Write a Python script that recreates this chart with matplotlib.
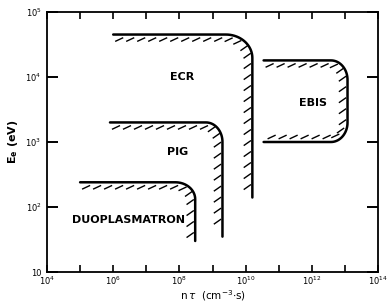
import numpy as np
import matplotlib
matplotlib.use("Agg")
import matplotlib.pyplot as plt
from matplotlib.ticker import FixedLocator, FuncFormatter, NullLocator

# ---- data ----
sources = ["ECR", "PIG", "DUOPLASMATRON", "EBIS"]
ntau_start = [1e6, 8e5, 1e5, 3.5e10]      # left end of boundary
ntau_edge = [1.6e10, 2e9, 3e8, 1.2e13]    # right (vertical) edge
energy_top = [4.5e4, 2e3, 2.4e2, 1.8e4]   # upper boundary energy (eV)
energy_bottom = [1.4e2, 35, 30, 1e3]      # lower end of vertical edge / lower boundary
closed_bottom = [False, False, False, True]
label_x = [1.2e8, 9e7, 3e6, 1.1e12]
label_y = [1.0e4, 7e2, 63, 4e3]

xticks = [10.0**k for k in range(4, 15)]
xtick_labels = {4: "10$^4$", 6: "10$^6$", 8: "10$^8$", 10: "10$^{10}$", 12: "10$^{12}$", 14: "10$^{14}$"}
yticks = [10.0**k for k in range(1, 6)]
ytick_labels = {1: "10", 2: "10$^2$", 3: "10$^3$", 4: "10$^4$", 5: "10$^5$"}

# corner radii in decades (style)
rx = [0.8, 0.5, 0.6, 0.5]
ry = [0.36, 0.3, 0.26, 0.3]

W_px, H_px = 391, 307
fig = plt.figure(figsize=(W_px / 100, H_px / 100), dpi=100)
left, right, bottom, top = 47 / W_px, 378 / W_px, 1 - 272 / H_px, 1 - 12 / H_px
ax = fig.add_axes([left, bottom, right - left, top - bottom])
ax.set_xscale("log")
ax.set_yscale("log")
XMIN, XMAX, YMIN, YMAX = 1e4, 1e14, 10, 1e5
ax.set_xlim(XMIN, XMAX)
ax.set_ylim(YMIN, YMAX)

AW = (right - left) * W_px
AH = (top - bottom) * H_px
DX = np.log10(XMAX) - np.log10(XMIN)
DY = np.log10(YMAX) - np.log10(YMIN)

def to_px(lx, ly):
    return (lx - np.log10(XMIN)) / DX * AW, (ly - np.log10(YMIN)) / DY * AH

def from_px(px, py):
    return 10 ** (np.log10(XMIN) + px / AW * DX), 10 ** (np.log10(YMIN) + py / AH * DY)

def arc(cx, cy, ax_, ay_, t0, t1, n=20):
    t = np.linspace(t0, t1, n)
    return cx + ax_ * np.cos(t), cy + ay_ * np.sin(t)

def boundary(i):
    x0, x1 = np.log10(ntau_start[i]), np.log10(ntau_edge[i])
    yt, yb = np.log10(energy_top[i]), np.log10(energy_bottom[i])
    r_x, r_y = rx[i], ry[i]
    xs, ys = [x0], [yt]
    cx, cy = arc(x1 - r_x, yt - r_y, r_x, r_y, np.pi / 2, 0)
    xs += list(cx); ys += list(cy)
    if closed_bottom[i]:
        cx, cy = arc(x1 - r_x, yb + r_y, r_x, r_y, 0, -np.pi / 2)
        xs += list(cx); ys += list(cy)
        xs.append(x0); ys.append(yb)
    else:
        xs.append(x1); ys.append(yb)
    return np.array(xs), np.array(ys)

for i in range(len(sources)):
    lx, ly = boundary(i)
    px, py = to_px(lx, ly)
    dx, dy = from_px(px, py)
    ax.plot(dx, dy, color="black", lw=1.8, solid_capstyle="round", solid_joinstyle="round")
    # hatching along the inner side
    seg = np.hypot(np.diff(px), np.diff(py))
    s = np.concatenate([[0], np.cumsum(seg)])
    spacing, off, length = 11.0, 5.0, 7.5
    for sv in np.arange(6, s[-1] - 4, spacing):
        k = min(np.searchsorted(s, sv) - 1, len(seg) - 1)
        k = max(k, 0)
        f = (sv - s[k]) / seg[k]
        qx = px[k] + f * (px[k + 1] - px[k])
        qy = py[k] + f * (py[k + 1] - py[k])
        tx, ty = (px[k + 1] - px[k]) / seg[k], (py[k + 1] - py[k]) / seg[k]
        nx, ny = ty, -tx
        ang = np.deg2rad(25 if abs(ty) < 0.5 else 35)
        cxp, cyp = qx + nx * off, qy + ny * off
        hx = np.array([cxp - np.cos(ang) * length / 2, cxp + np.cos(ang) * length / 2])
        hy = np.array([cyp - np.sin(ang) * length / 2, cyp + np.sin(ang) * length / 2])
        hdx, hdy = from_px(hx, hy)
        ax.plot(hdx, hdy, color="black", lw=1.0)
    ax.text(label_x[i], label_y[i], sources[i], ha="center", va="center",
            fontsize=8, fontweight="bold", family="DejaVu Sans")

# axes styling
for sp in ax.spines.values():
    sp.set_linewidth(1.3)
ax.xaxis.set_major_locator(FixedLocator(xticks))
ax.xaxis.set_minor_locator(NullLocator())
ax.yaxis.set_major_locator(FixedLocator(yticks))
ax.yaxis.set_minor_locator(NullLocator())
ax.xaxis.set_major_formatter(FuncFormatter(lambda v, p: xtick_labels.get(int(round(np.log10(v))), "")))
ax.yaxis.set_major_formatter(FuncFormatter(lambda v, p: ytick_labels.get(int(round(np.log10(v))), "")))
ax.tick_params(axis="x", which="major", direction="in", length=5, width=1.2, top=True,
               labelsize=6, pad=2)
ax.tick_params(axis="y", which="major", direction="in", length=8, width=1.4, right=True,
               labelsize=6, pad=4)
ax.set_xlabel(r"n$\,\tau$  (cm$^{-3}$$\cdot$s)", fontsize=7.5, labelpad=1)
ax.set_ylabel(r"E$_\mathregular{e}$ (eV)", fontsize=8, fontweight="bold", labelpad=4)

fig.savefig("out.png", dpi=100)
